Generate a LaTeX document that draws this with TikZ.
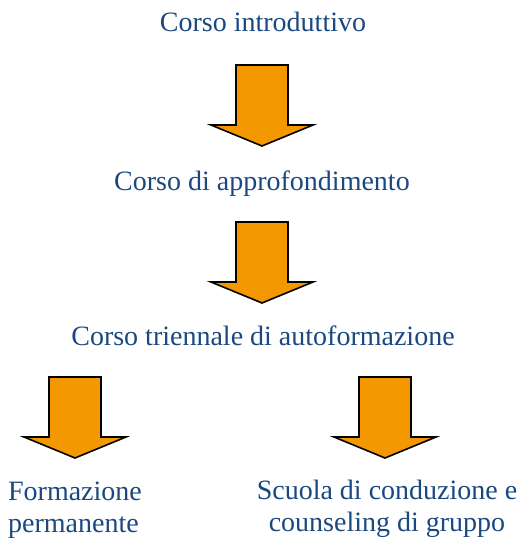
\documentclass[tikz,border=0pt]{standalone}
\usepackage{fontspec}
\setmainfont{Liberation Serif}
\definecolor{stepblue}{RGB}{26,72,128}
\definecolor{steporange}{RGB}{243,152,0}
% block arrow pointing down: #1 = centre x, #2 = top y
\newcommand{\downblock}[2]{%
  \path[blockarrow] (#1-26,#2) -- (#1+26,#2) -- (#1+26,#2+60) -- (#1+51,#2+60)
    -- (#1,#2+81) -- (#1-51,#2+60) -- (#1-26,#2+60) -- cycle;}
\begin{document}
\begin{tikzpicture}[x=1pt,y=-1pt]
    \tikzset{lbl/.style={text=stepblue, font=\fontsize{28}{32}\selectfont, inner sep=0pt, anchor=base, align=center},
      blockarrow/.style={draw=black, fill=steporange, line width=1.6pt, line join=miter}};
    \useasboundingbox (0,0) rectangle (518,544);
    \node[lbl] (cIntro) at (263,31) {Corso introduttivo};
    \node[lbl] (cAppro) at (262,190) {Corso di approfondimento};
    \node[lbl] (cTrien) at (263,345) {Corso triennale di autoformazione};
    \node[lbl, align=left] (fPerm) at (75,532) {Formazione\\permanente};
    \node[lbl] (sCouns) at (387,531) {Scuola di conduzione e\\counseling di gruppo};
    \downblock{262}{65}
    \downblock{262}{222}
    \downblock{75}{377}
    \downblock{385}{377}
\end{tikzpicture}
\end{document}
